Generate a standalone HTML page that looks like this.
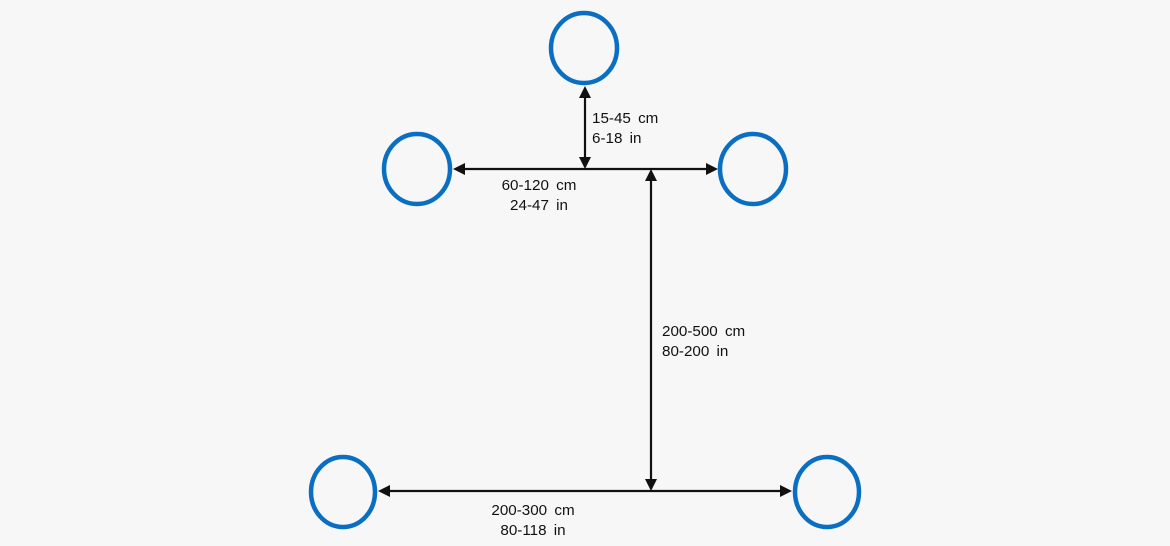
<!DOCTYPE html>
<html><head><style>
html,body{margin:0;padding:0;background:#f7f7f7;}
svg{display:block;}
text{font-family:"Liberation Sans",Arial,sans-serif;font-size:15.2px;fill:#111;word-spacing:3px;}
</style></head><body>
<svg width="1170" height="546" viewBox="0 0 1170 546" xmlns="http://www.w3.org/2000/svg">
<rect width="1170" height="546" fill="#f7f7f7"/>
<g fill="none" stroke="#0a6fc2" stroke-width="4.5">
<ellipse cx="584" cy="48" rx="33" ry="35"/>
<ellipse cx="417" cy="169" rx="33" ry="35"/>
<ellipse cx="753" cy="169" rx="33" ry="35"/>
<ellipse cx="343" cy="492" rx="32" ry="35"/>
<ellipse cx="827" cy="492" rx="32" ry="35"/>
</g>
<g stroke="#111" stroke-width="2.2" fill="none">
<line x1="462" y1="169" x2="708" y2="169"/>
<line x1="585" y1="96" x2="585" y2="160"/>
<line x1="651" y1="178" x2="651" y2="482"/>
<line x1="387" y1="491" x2="782" y2="491"/>
</g>
<g fill="#111">
<polygon points="453,169 465,163 465,175"/>
<polygon points="718,169 706,163 706,175"/>
<polygon points="585,86 579,98 591,98"/>
<polygon points="585,169 579,157 591,157"/>
<polygon points="651,169 645,181 657,181"/>
<polygon points="651,491 645,479 657,479"/>
<polygon points="378,491 390,485 390,497"/>
<polygon points="792,491 780,485 780,497"/>
</g>
<text x="592" y="123">15-45 cm</text>
<text x="592" y="143">6-18 in</text>
<text x="539" y="190" text-anchor="middle">60-120 cm</text>
<text x="539" y="210" text-anchor="middle">24-47 in</text>
<text x="662" y="336">200-500 cm</text>
<text x="662" y="356">80-200 in</text>
<text x="533" y="515" text-anchor="middle">200-300 cm</text>
<text x="533" y="535" text-anchor="middle">80-118 in</text>
</svg>
</body></html>
